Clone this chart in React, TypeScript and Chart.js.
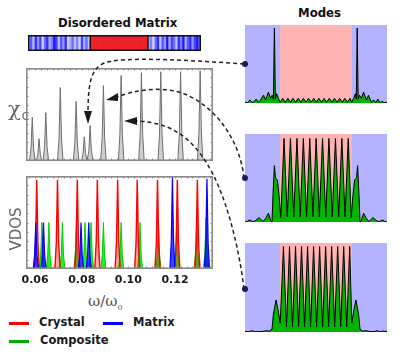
import React, { useEffect, useRef } from 'react';
import { Chart, registerables } from 'chart.js';
Chart.register(...registerables);

// ---------- axis ----------
const X_MIN = 0.0561;
const X_MAX = 0.1363;
const xTickValues = [0.06, 0.08, 0.10, 0.12];
const xTickLabels = ['0.06', '0.08', '0.10', '0.12'];

// ---------- chi_C spectrum (peak positions / heights) ----------
const chiPeakPos = [0.0588, 0.0617, 0.0646, 0.0708, 0.0776, 0.0811, 0.0836, 0.0893, 0.0969, 0.1056, 0.1139, 0.1224, 0.1308];
const chiPeakHeight = [0.47, 0.24, 0.52, 0.79, 0.64, 0.26, 0.38, 0.81, 0.92, 0.95, 0.96, 0.96, 0.97];

// ---------- VDOS ----------
const crystalPos = [0.0607, 0.0696, 0.0781, 0.0867, 0.0954, 0.1038, 0.1125, 0.1210, 0.1296];
const crystalHeight = [0.96, 0.96, 0.96, 0.96, 0.96, 0.96, 0.96, 0.96, 0.96];
const matrixPos = [0.0603, 0.0636, 0.0797, 0.0830, 0.1189, 0.1337];
const matrixHeight = [0.5, 0.5, 0.5, 0.5, 0.99, 0.97];
const compositePos = [0.0629, 0.0659, 0.0717, 0.0777, 0.0814, 0.0840, 0.0893, 0.0969, 0.1050, 0.1129, 0.1208, 0.1293, 0.1333];
const compositeHeight = [0.5, 0.5, 0.5, 0.5, 0.5, 0.5, 0.5, 0.5, 0.5, 0.5, 0.5, 0.55, 0.55];

// ---------- disordered matrix colour bar ----------
const leftStripes = [0.3, 0.7, 0.2, 0.9, 0.4, 0.8, 0.1, 0.6, 0.9, 0.3, 0.5, 1.0, 0.8, 0.2, 0.7, 0.4, 0.9, 0.1, 0.3, 0.6, 0.2, 0.5, 0.1, 0.8, 0.3, 0.6, 0.2];
const crystalCells = 25;
const rightStripes = [0.3, 0.5, 0.1, 0.6, 0.9, 0.2, 0.7, 0.4, 1.0, 0.3, 0.8, 0.6, 0.2, 0.9, 0.5, 1.0, 0.3, 0.7, 0.9, 0.4, 0.8, 1.0, 0.6];

// ---------- modes ----------
const crystalRegion = [0.247, 0.753];
const mode1X = [0, 0.02, 0.035, 0.05, 0.065, 0.078, 0.095, 0.11, 0.13, 0.145, 0.165, 0.18, 0.192, 0.2, 0.207, 0.214, 0.222, 0.235, 0.248,
  0.265, 0.283, 0.3015, 0.32, 0.338, 0.356, 0.3745, 0.393, 0.411, 0.429, 0.4475, 0.466, 0.484, 0.502, 0.52, 0.539, 0.557, 0.575, 0.5935, 0.612, 0.63, 0.648, 0.6665, 0.685, 0.703, 0.721, 0.7395, 0.752,
  0.765, 0.778, 0.784, 0.79, 0.797, 0.806, 0.82, 0.835, 0.855, 0.87, 0.89, 0.905, 0.922, 0.935, 0.95, 0.965, 0.98, 1];
const mode1Y = [0.01, 0.005, 0.04, 0.005, 0.02, 0.05, 0.01, 0.04, 0.1, 0.04, 0.14, 0.06, 0.1, 0.05, 0.96, 0.05, 0.12, 0.06, 0.01,
  0.06, 0.01, 0.06, 0.01, 0.06, 0.01, 0.06, 0.01, 0.06, 0.01, 0.06, 0.01, 0.06, 0.01, 0.06, 0.01, 0.06, 0.01, 0.06, 0.01, 0.06, 0.01, 0.06, 0.01, 0.06, 0.01, 0.06, 0.01,
  0.06, 0.12, 0.05, 0.96, 0.05, 0.1, 0.06, 0.14, 0.04, 0.1, 0.01, 0.04, 0.005, 0.05, 0.005, 0.02, 0.005, 0.01];

const mode2X = [0, 0.02, 0.035, 0.05, 0.07, 0.1, 0.125, 0.145, 0.165, 0.18, 0.19, 0.197, 0.207, 0.215, 0.228, 0.24, 0.252,
  0.275, 0.2975, 0.32, 0.343, 0.366, 0.3885, 0.411, 0.4335, 0.456, 0.4785, 0.501, 0.5235, 0.546, 0.5685, 0.591, 0.614, 0.637, 0.6595, 0.682, 0.7045, 0.727, 0.748,
  0.76, 0.772, 0.785, 0.793, 0.803, 0.81, 0.82, 0.835, 0.855, 0.875, 0.9, 0.93, 0.95, 0.965, 0.98, 1];
const mode2Y = [0, 0.01, 0.025, 0.005, 0.01, 0.05, 0.005, 0.04, 0.1, 0.02, 0, 0.3, 0.64, 0.5, 0.48, 0.3, 0.05,
  0.95, 0.06, 0.95, 0.06, 0.95, 0.06, 0.95, 0.06, 0.95, 0.06, 0.95, 0.06, 0.95, 0.06, 0.95, 0.06, 0.95, 0.06, 0.95, 0.06, 0.95, 0.05,
  0.3, 0.48, 0.5, 0.64, 0.3, 0, 0.02, 0.1, 0.04, 0.005, 0.05, 0.01, 0.005, 0.025, 0.01, 0];

const mode3X = [0, 0.03, 0.05, 0.07, 0.09, 0.12, 0.15, 0.17, 0.19, 0.2, 0.219, 0.233, 0.248,
  0.271, 0.2922, 0.3134, 0.3346, 0.3558, 0.377, 0.3982, 0.4194, 0.4406, 0.4618, 0.483, 0.5042, 0.5254, 0.5466, 0.5678, 0.589, 0.6102, 0.6314, 0.6526, 0.6738, 0.695, 0.7162, 0.7374,
  0.752, 0.767, 0.781, 0.8, 0.81, 0.83, 0.85, 0.88, 0.91, 0.93, 0.95, 0.97, 1];
const mode3Y = [0.005, 0.005, 0.015, 0.003, 0.005, 0.005, 0.015, 0.01, 0.03, 0.2, 0.36, 0.25, 0.1,
  0.96, 0.06, 0.96, 0.06, 0.96, 0.06, 0.96, 0.06, 0.96, 0.06, 0.96, 0.06, 0.96, 0.06, 0.96, 0.06, 0.96, 0.06, 0.96, 0.06, 0.96, 0.06, 0.96,
  0.1, 0.25, 0.36, 0.2, 0.03, 0.01, 0.015, 0.005, 0.005, 0.015, 0.003, 0.01, 0.005];

// ---------- helpers ----------
function peakPoints(pos: number[], h: number[], hw: number) {
  const pts: { x: number; y: number }[] = [{ x: X_MIN, y: 0 }];
  pos.forEach((p, i) => {
    pts.push({ x: p - hw, y: 0 }, { x: p - hw * 0.45, y: h[i] * 0.3 }, { x: p, y: h[i] }, { x: p + hw * 0.45, y: h[i] * 0.3 }, { x: p + hw, y: 0 });
  });
  pts.push({ x: X_MAX, y: 0 });
  return pts;
}
function zipXY(xs: number[], ys: number[]) {
  return xs.map((x, i) => ({ x, y: ys[i] }));
}

const boxPlugin = {
  id: 'box',
  afterDraw(chart: any) {
    const { ctx, chartArea: a, scales } = chart;
    ctx.save();
    ctx.strokeStyle = '#8c8c8c';
    ctx.lineWidth = 1;
    for (let v = 0.0575; v < X_MAX; v += 0.0025) {
      const px = Math.round(scales.x.getPixelForValue(v)) + 0.5;
      ctx.beginPath();
      ctx.moveTo(px, a.top); ctx.lineTo(px, a.top + 2.5);
      ctx.moveTo(px, a.bottom); ctx.lineTo(px, a.bottom - 2.5);
      ctx.stroke();
    }
    for (let v = 0.1; v < 1; v += 0.1) {
      const py = Math.round(scales.y.getPixelForValue(v)) + 0.5;
      ctx.beginPath();
      ctx.moveTo(a.right, py); ctx.lineTo(a.right - 2.5, py);
      ctx.moveTo(a.left, py); ctx.lineTo(a.left + 2.5, py);
      ctx.stroke();
    }
    ctx.lineWidth = 1.6;
    ctx.strokeStyle = '#8a8a8a';
    ctx.strokeRect(a.left + 0.8, a.top + 0.8, a.right - a.left - 1.6, a.bottom - a.top - 1.6);
    ctx.restore();
  },
};

const modeBgPlugin = {
  id: 'modeBg',
  beforeDraw(chart: any) {
    const { ctx, chartArea: a, scales } = chart;
    ctx.save();
    ctx.fillStyle = '#b3b3ff';
    ctx.fillRect(a.left, a.top, a.right - a.left, a.bottom - a.top);
    const x0 = scales.x.getPixelForValue(crystalRegion[0]);
    const x1 = scales.x.getPixelForValue(crystalRegion[1]);
    ctx.fillStyle = '#ffb3b3';
    ctx.fillRect(x0, a.top, x1 - x0, a.bottom - a.top);
    ctx.restore();
  },
};

const barBorderPlugin = {
  id: 'barBorder',
  afterDraw(chart: any) {
    const { ctx, chartArea: a, scales } = chart;
    ctx.save();
    ctx.strokeStyle = '#111';
    ctx.lineWidth = 1.5;
    ctx.strokeRect(a.left + 0.75, a.top + 0.75, a.right - a.left - 1.5, a.bottom - a.top - 1.5);
    const xa = scales.x.getPixelForValue(leftStripes.length - 0.5);
    const xb = scales.x.getPixelForValue(leftStripes.length + crystalCells - 0.5);
    ctx.beginPath();
    ctx.moveTo(xa, a.top); ctx.lineTo(xa, a.bottom);
    ctx.moveTo(xb, a.top); ctx.lineTo(xb, a.bottom);
    ctx.stroke();
    ctx.restore();
  },
};

const hiddenY = (max: number) => ({ type: 'linear', display: false, min: 0, max });
const baseOpts = {
  responsive: false,
  animation: false,
  events: [],
  plugins: { legend: { display: false }, tooltip: { enabled: false } },
};

function ChartCanvas({ left, top, width, height, make }: any) {
  const ref = useRef<HTMLCanvasElement>(null);
  useEffect(() => {
    const c = new Chart(ref.current as HTMLCanvasElement, make());
    return () => c.destroy();
  }, []);
  return <canvas ref={ref} width={width} height={height} style={{ position: 'absolute', left, top, width, height }} />;
}

const chiConfig = () => ({
  type: 'line',
  data: {
    datasets: [{
      data: peakPoints(chiPeakPos, chiPeakHeight, 0.0012),
      borderColor: '#6e6e6e', borderWidth: 1, backgroundColor: '#cfcfcf', fill: 'origin', pointRadius: 0, tension: 0,
    }],
  },
  options: {
    ...baseOpts,
    layout: { padding: 0 },
    scales: { x: { type: 'linear', display: false, min: X_MIN, max: X_MAX }, y: hiddenY(1.0) },
  },
  plugins: [boxPlugin],
});

const vdosConfig = () => ({
  type: 'line',
  data: {
    datasets: [
      { label: 'Matrix', data: peakPoints(matrixPos, matrixHeight, 0.0011), borderColor: '#0000ff', borderWidth: 1.2, backgroundColor: 'rgba(0,0,255,0.75)', fill: 'origin', pointRadius: 0, tension: 0 },
      { label: 'Crystal', data: peakPoints(crystalPos, crystalHeight, 0.0011), borderColor: '#ff0000', borderWidth: 1.4, backgroundColor: 'rgba(255,0,0,0.35)', fill: 'origin', pointRadius: 0, tension: 0 },
      { label: 'Composite', data: peakPoints(compositePos, compositeHeight, 0.0011), borderColor: '#00d000', borderWidth: 1, backgroundColor: 'rgba(0,235,0,0.85)', fill: 'origin', pointRadius: 0, tension: 0 },
    ],
  },
  options: {
    ...baseOpts,
    layout: { padding: { left: 10, right: 10, top: 0, bottom: 0 } },
    scales: {
      x: {
        type: 'linear', min: X_MIN, max: X_MAX,
        border: { display: false },
        grid: { display: false, drawTicks: false },
        afterBuildTicks: (s: any) => { s.ticks = xTickValues.map((v) => ({ value: v })); },
        afterFit: (s: any) => { s.height = 20; },
        ticks: {
          autoSkip: false, maxRotation: 0, padding: 5, color: '#1a1a1a',
          font: { family: 'DejaVu Sans', size: 11, weight: 'bold' },
          callback: (v: number) => xTickLabels[xTickValues.findIndex((t) => Math.abs(t - v) < 1e-9)] ?? '',
        },
      },
      y: hiddenY(1.0),
    },
  },
  plugins: [boxPlugin],
});

const barSites = [...leftStripes, ...Array(crystalCells).fill(-1), ...rightStripes];
function stripeColor(v: number) {
  if (v < 0) return '#ee2028';
  const c = Math.round(228 - 200 * v);
  return `rgb(${c},${c},255)`;
}
const barConfig = () => ({
  type: 'bar',
  data: {
    labels: barSites.map((_, i) => String(i)),
    datasets: [{ data: barSites.map(() => 1), backgroundColor: barSites.map(stripeColor), borderWidth: 0, barPercentage: 1, categoryPercentage: 1 }],
  },
  options: {
    ...baseOpts,
    layout: { padding: 0 },
    scales: { x: { display: false }, y: hiddenY(1) },
  },
  plugins: [barBorderPlugin],
});

const modeConfig = (xs: number[], ys: number[]) => () => ({
  type: 'line',
  data: {
    datasets: [{ data: zipXY(xs, ys), borderColor: '#000', borderWidth: 1, backgroundColor: '#00b400', fill: 'origin', pointRadius: 0, tension: 0 }],
  },
  options: {
    ...baseOpts,
    layout: { padding: 0 },
    scales: { x: { type: 'linear', display: false, min: 0, max: 1 }, y: hiddenY(1.0) },
  },
  plugins: [modeBgPlugin],
});

const boldFont = '"DejaVu Sans", Verdana, sans-serif';

export default function App() {
  const txt = (s: any) => ({ position: 'absolute' as const, whiteSpace: 'nowrap' as const, ...s });
  return (
    <div style={{ position: 'absolute', left: 0, top: 0, width: 399, height: 352, background: '#fff', overflow: 'hidden', fontFamily: boldFont }}>
      {/* titles */}
      <div style={txt({ left: 58, top: 16, fontSize: 11.7, fontWeight: 'bold', color: '#111' })}>Disordered Matrix</div>
      <div style={txt({ left: 298, top: 6, fontSize: 11.7, fontWeight: 'bold', color: '#111' })}>Modes</div>

      <ChartCanvas left={28} top={35} width={173} height={16} make={barConfig} />
      <ChartCanvas left={26} top={68} width={187} height={93} make={chiConfig} />
      <ChartCanvas left={16} top={176} width={207} height={113} make={vdosConfig} />

      <ChartCanvas left={245} top={25} width={142} height={78} make={modeConfig(mode1X, mode1Y)} />
      <ChartCanvas left={245} top={134} width={142} height={88} make={modeConfig(mode2X, mode2Y)} />
      <ChartCanvas left={245} top={243} width={142} height={89} make={modeConfig(mode3X, mode3Y)} />

      {/* axis titles */}
      <div style={txt({ left: 8, top: 97, fontSize: 21, color: '#666', fontFamily: '"DejaVu Serif", serif' })}>χ<span style={{ fontSize: 11, fontFamily: boldFont, position: 'relative', top: 4, left: 1 }}>C</span></div>
      <div style={txt({ left: 16, top: 229, fontSize: 15, color: '#666', transform: 'translate(-50%, -50%) rotate(-90deg)' })}>VDOS</div>
      <div style={txt({ left: 88, top: 292, fontSize: 15, color: '#555', fontFamily: '"DejaVu Serif", serif' })}>ω/ω<span style={{ fontSize: 8, position: 'relative', top: 4 }}>0</span></div>

      {/* legend */}
      <div style={txt({ left: 9, top: 322, width: 20, height: 3, background: '#ff0000' })} />
      <div style={txt({ left: 39, top: 315, fontSize: 11.5, fontWeight: 'bold', color: '#1a1a1a' })}>Crystal</div>
      <div style={txt({ left: 103, top: 322, width: 20, height: 3, background: '#0000ff' })} />
      <div style={txt({ left: 133, top: 315, fontSize: 11.5, fontWeight: 'bold', color: '#1a1a1a' })}>Matrix</div>
      <div style={txt({ left: 9, top: 340, width: 20, height: 3, background: '#00b000' })} />
      <div style={txt({ left: 40, top: 333, fontSize: 11.5, fontWeight: 'bold', color: '#1a1a1a' })}>Composite</div>

      {/* dashed arrows */}
      <svg width={399} height={352} style={{ position: 'absolute', left: 0, top: 0, pointerEvents: 'none' }}>
        <g fill="none" stroke="#222" strokeWidth={1.5} strokeDasharray="4 3">
          <path d="M 244 64 C 200 61, 140 57, 112 61 C 93 64, 88 76, 88 113" />
          <path d="M 244 178 C 240 140, 215 105, 182 93 C 160 86, 135 90, 117 97" />
          <path d="M 244 289 C 238 240, 224 190, 206 162 C 190 137, 170 122, 136 121" />
        </g>
        <g fill="#1a1a1a">
          <polygon points="88,124 84,111 92,111" />
          <polygon points="106,100 118,93 118,101" />
          <polygon points="124,121 137,117 137,125" />
        </g>
        <g fill="#1c1c55">
          <circle cx={245} cy={64} r={3} />
          <circle cx={245} cy={178} r={3} />
          <circle cx={245} cy={289} r={3} />
        </g>
      </svg>
    </div>
  );
}
